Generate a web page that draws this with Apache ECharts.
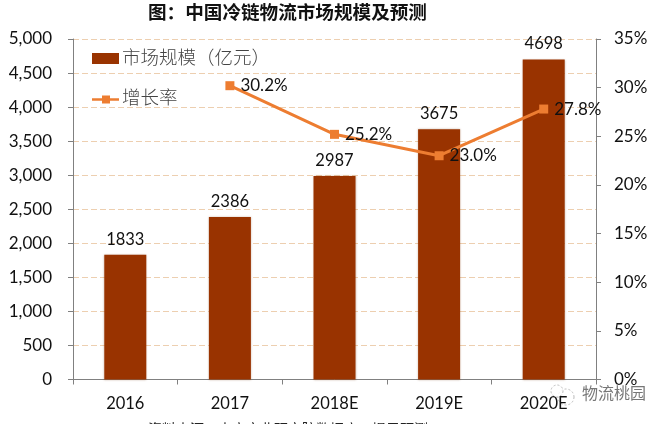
<!DOCTYPE html>
<html><head><meta charset="utf-8">
<style>html,body{margin:0;padding:0;background:#fff}#c{width:666px;height:424px}</style>
<script src="https://cdn.jsdelivr.net/npm/echarts@6/dist/echarts.min.js"></script>
</head><body><div id="c"></div>
<script>
const categories=['2016','2017','2018E','2019E','2020E'];
const marketSize=[1833,2386,2987,3675,4698];
const growthRate=[null,30.2,25.2,23.0,27.8];
const titleText='图：中国冷链物流市场规模及预测';
const sourceText='资料来源：中商产业研究院数据库、提示预测';
const watermark='物流桃园';
const cjk='"Noto Sans CJK SC","Noto Sans",sans-serif';
const latin='Lato,"Noto Sans",sans-serif';
const chart=echarts.init(document.getElementById('c'),null,{renderer:'canvas'});
chart.setOption({
  animation:false,backgroundColor:'#fff',
  grid:{left:73,right:70,top:39,bottom:44.5,containLabel:false},
  legend:{show:false},
  xAxis:{type:'category',data:categories,boundaryGap:true,
    axisLine:{lineStyle:{color:'#808080',width:1}},
    axisTick:{show:true,alignWithLabel:false,length:5,lineStyle:{color:'#808080'}},
    axisLabel:{color:'#111',fontSize:16.5,fontFamily:latin,margin:16},splitLine:{show:false}},
  yAxis:[
    {type:'value',min:0,max:5000,interval:500,
     axisLine:{show:true,lineStyle:{color:'#808080',width:1}},
     axisTick:{show:true,length:5,lineStyle:{color:'#808080'}},
     axisLabel:{color:'#111',fontSize:17,fontFamily:latin,margin:21,formatter:v=>v.toLocaleString('en-US')},
     splitLine:{show:true,lineStyle:{color:'#edcfb0',type:[6,3],width:1}}},
    {type:'value',min:0,max:35,interval:5,position:'right',
     axisLine:{show:true,lineStyle:{color:'#808080',width:1}},
     axisTick:{show:true,length:5,lineStyle:{color:'#808080'}},
     axisLabel:{color:'#111',fontSize:17,fontFamily:latin,margin:18,formatter:'{value}%'},
     splitLine:{show:false}}
  ],
  series:[
    {name:'市场规模（亿元）',type:'bar',data:marketSize,barWidth:42,yAxisIndex:0,
     itemStyle:{color:'#993300',shadowColor:'rgba(120,70,30,0.35)',shadowBlur:2},
     label:{show:true,position:'top',distance:7,color:'#111',fontSize:16.5,fontFamily:latin},z:2},
    {name:'增长率',type:'line',data:growthRate,yAxisIndex:1,connectNulls:false,
     symbol:'rect',symbolSize:9,lineStyle:{color:'#ed7d31',width:3},itemStyle:{color:'#ed7d31'},
     label:{show:true,position:'right',distance:6,color:'#111',fontSize:17,fontFamily:latin,formatter:p=>p.value.toFixed(1)+'%'},z:5}
  ],
  graphic:[
    {type:'text',left:148,top:3,style:{text:titleText,fontSize:18.6,fontWeight:'bold',fontFamily:cjk,fill:'#111'}},
    {type:'rect',shape:{x:92,y:53,width:27,height:11},style:{fill:'#993300'}},
    {type:'text',left:122,top:48,style:{text:'市场规模（亿元）',fontSize:18.5,fontFamily:cjk,fontWeight:300,fill:'#444'}},
    {type:'line',shape:{x1:92,y1:99.5,x2:119,y2:99.5},style:{stroke:'#ed7d31',lineWidth:2.5}},
    {type:'rect',shape:{x:102,y:95.5,width:8,height:8},style:{fill:'#ed7d31'}},
    {type:'text',left:122,top:88,style:{text:'增长率',fontSize:18.5,fontFamily:cjk,fontWeight:300,fill:'#444'}},
    {type:'text',left:148,top:422,style:{text:sourceText,fontSize:14,fontFamily:cjk,fill:'#222'}},
    {type:'circle',shape:{cx:566,cy:397,r:8},style:{fill:'rgba(255,255,255,0.85)',stroke:'#bbb',lineWidth:1,lineDash:[2,2]}},
    {type:'circle',shape:{cx:557,cy:391,r:6},style:{fill:'rgba(255,255,255,0.85)',stroke:'#bbb',lineWidth:1,lineDash:[2,2]}},
    {type:'text',left:582,top:385,style:{text:watermark,fontSize:16,fontFamily:cjk,fill:'#777'}}
  ]
});
</script></body></html>
